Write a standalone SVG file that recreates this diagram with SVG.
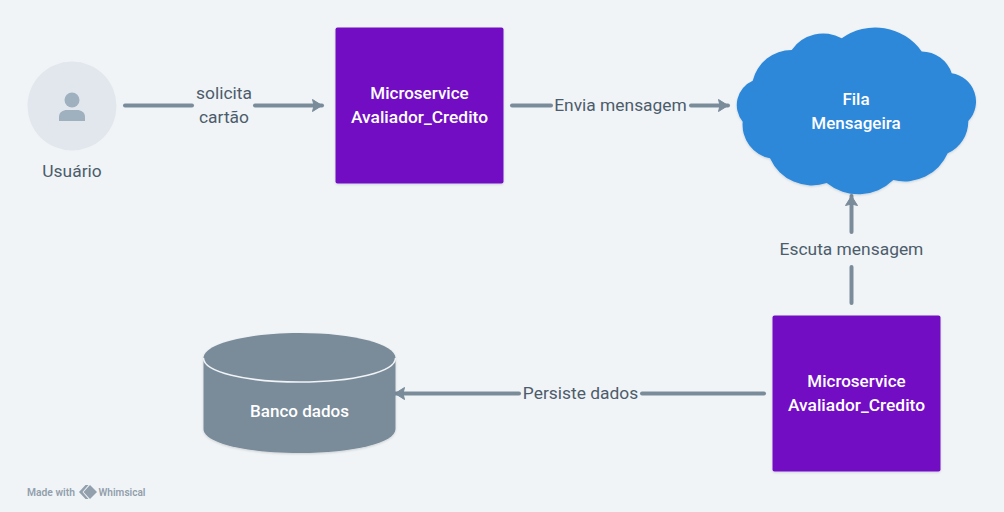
<svg xmlns="http://www.w3.org/2000/svg" width="1004" height="512" viewBox="0 0 1004 512">
<defs>
<marker id="arrow" markerUnits="userSpaceOnUse" markerWidth="12" markerHeight="14" refX="11" refY="7" orient="auto"><path d="M1.500 1 L11 7 L1.500 13 L3 7 Z" fill="#7a8b9a" stroke="#7a8b9a" stroke-width="1" stroke-linejoin="round"/></marker>
<filter id="sh" x="-5%" y="-5%" width="110%" height="110%"><feDropShadow dx="0" dy="1" stdDeviation="1" flood-color="#000" flood-opacity="0.15"/></filter>
</defs>
<style>
text{font-family:"Roboto","Liberation Sans",sans-serif;text-anchor:middle}
.l{font-size:17.400px;fill:#4d5c6b}
.n{font-size:17px;font-weight:500;fill:#fff}
.w{font-size:10px;font-weight:600;fill:#929fac}
.c{fill:none;stroke:#7a8b9a;stroke-width:4;stroke-linecap:round}
.m{fill:#7210c4;filter:url(#sh)}
</style>
<rect width="1004" height="512" fill="#f0f4f7"/>
<g id="connectors">
<path class="c" d="M125 105.500H192"/>
<path class="c" d="M255 105.500H322" marker-end="url(#arrow)"/>
<path class="c" d="M512 105.500H551"/>
<path class="c" d="M691 105.500H728" marker-end="url(#arrow)"/>
<path class="c" d="M851.500 232V196" marker-end="url(#arrow)"/>
<path class="c" d="M851.500 303V267"/>
<path class="c" d="M764 393.500H642"/>
<path class="c" d="M519 393.500H395" marker-end="url(#arrow)"/>
<text class="l" x="224" y="99">solicita</text>
<text class="l" x="224" y="123">cartão</text>
<text class="l" x="620.500" y="111">Envia mensagem</text>
<text class="l" x="851.500" y="255">Escuta mensagem</text>
<text class="l" x="580.500" y="399">Persiste dados</text>
</g>
<g id="usuario">
<circle cx="72" cy="106" r="44.500" fill="#e2e7ee"/>
<circle cx="72" cy="100" r="7.500" fill="#9fb0bf"/>
<path d="M59 121V117C59 112 63 110 67 110H77C81 110 85 112 85 117V121Z" fill="#9fb0bf"/>
<text class="l" x="72" y="177">Usuário</text>
</g>
<g id="avaliador1">
<rect class="m" x="335.500" y="27.500" width="168" height="156" rx="2"/>
<text class="n" x="419.500" y="99">Microservice</text>
<text class="n" x="419.500" y="123" textLength="137" lengthAdjust="spacingAndGlyphs">Avaliador_Credito</text>
</g>
<g id="fila">
<path filter="url(#sh)" fill="#2d88da" d="M841.700 38.300A57 57 0 0 1 921.700 51.500A32 32 0 0 1 951.700 73.300A28.500 28.500 0 0 1 968.300 121A35 35 0 0 1 947.700 153.300A47 47 0 0 1 893.300 180A50 50 0 0 1 826.700 183A46 46 0 0 1 770 158.300A34 34 0 0 1 742.700 121.700A26.500 26.500 0 0 1 752.700 80.700A40 40 0 0 1 791.700 50A38 38 0 0 1 841.700 38.300Z"/>
<text class="n" x="856" y="105">Fila</text>
<text class="n" x="856" y="129">Mensageira</text>
</g>
<g id="avaliador2">
<rect class="m" x="772.500" y="315.500" width="168" height="156" rx="2"/>
<text class="n" x="856.500" y="387">Microservice</text>
<text class="n" x="856.500" y="411" textLength="137" lengthAdjust="spacingAndGlyphs">Avaliador_Credito</text>
</g>
<g id="banco">
<path filter="url(#sh)" fill="#7a8b9a" d="M203.500 358C203.500 344 246 333 299.500 333S395.500 344 395.500 358V429C395.500 443 353 453 299.500 453S203.500 443 203.500 429Z"/>
<path d="M203.500 358C203.500 372 246 382 299.500 382S395.500 372 395.500 358" fill="none" stroke="#f0f4f7" stroke-width="1.500"/>
<text class="n" x="299.500" y="417">Banco dados</text>
</g>
<g id="whimsical">
<text class="w" x="51" y="495.500" textLength="48" lengthAdjust="spacingAndGlyphs">Made with</text>
<path d="M79 492L85.500 485L88.500 485L82.500 492L88.500 499L85.500 499Z" fill="#929fac"/>
<path d="M83.500 492L90 485L97 492L90 499Z" fill="#929fac"/>
<text class="w" x="122" y="495.500" textLength="47" lengthAdjust="spacingAndGlyphs">Whimsical</text>
</g>
</svg>
